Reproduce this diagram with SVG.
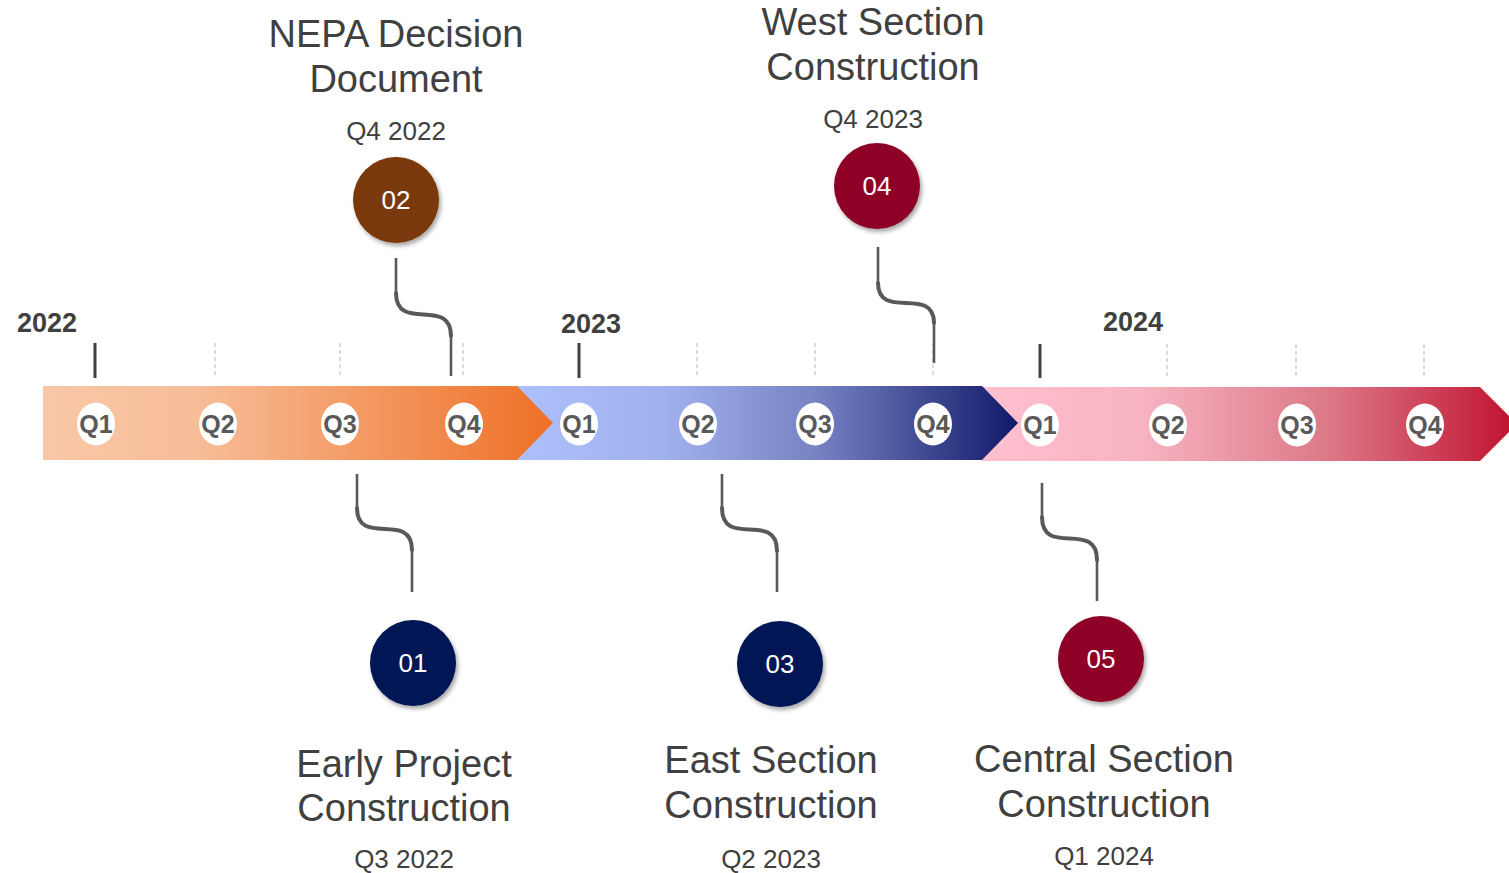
<svg xmlns="http://www.w3.org/2000/svg" width="1509" height="873" viewBox="0 0 1509 873">
<defs>
<linearGradient id="g1" x1="0" y1="0" x2="1" y2="0"><stop offset="0" stop-color="#F9C7A7"/><stop offset="0.3" stop-color="#F7BD98"/><stop offset="1" stop-color="#EE7026"/></linearGradient>
<linearGradient id="g2" x1="0" y1="0" x2="1" y2="0"><stop offset="0" stop-color="#AEC0FC"/><stop offset="0.3" stop-color="#A0B0EE"/><stop offset="0.6" stop-color="#7682C2"/><stop offset="1" stop-color="#10196A"/></linearGradient>
<linearGradient id="g3" x1="0" y1="0" x2="1" y2="0"><stop offset="0" stop-color="#FFC0CF"/><stop offset="0.3" stop-color="#F7B3C1"/><stop offset="0.65" stop-color="#DC7886"/><stop offset="1" stop-color="#C0112E"/></linearGradient>
<filter id="sh" x="-30%" y="-30%" width="160%" height="160%"><feDropShadow dx="2" dy="3" stdDeviation="2" flood-color="#000" flood-opacity="0.35"/></filter>
</defs>
<style>
.title{font-family:"Liberation Sans",Arial,sans-serif;font-size:38px;fill:#404040;text-anchor:middle}
.date{font-family:"Liberation Sans",Arial,sans-serif;font-size:26px;fill:#404040;text-anchor:middle}
.year{font-family:"Liberation Sans",Arial,sans-serif;font-size:27px;font-weight:bold;fill:#404040;text-anchor:middle}
.q{font-family:"Liberation Sans",Arial,sans-serif;font-size:25px;font-weight:bold;fill:#595959;text-anchor:middle}
.num{font-family:"Liberation Sans",Arial,sans-serif;font-size:26px;fill:#FFFFFF;text-anchor:middle}
.qc{fill:#FFFFFF}
.tick{stroke:#404040;stroke-width:3}
.dash{stroke:#D3D3D3;stroke-width:1.6;stroke-dasharray:4 3}
.ln{fill:none;stroke:#595959;stroke-width:2.6}
.cv{fill:none;stroke:#595959;stroke-width:4;stroke-linecap:round}
</style>
<g id="timeline">
<polygon points="982,387 1480,387 1517,424 1480,461 982,461" fill="url(#g3)"/>
<polygon points="517,386 982,386 1018,423 982,460 517,460" fill="url(#g2)"/>
<polygon points="43,386 517,386 553,423 517,460 43,460" fill="url(#g1)"/>
</g>
<g id="ticks">
<line class="tick" x1="95" y1="343" x2="95" y2="378"/>
<line class="tick" x1="579" y1="343" x2="579" y2="378"/>
<line class="tick" x1="1040" y1="344" x2="1040" y2="378"/>
<line class="dash" x1="215" y1="343" x2="215" y2="378"/>
<line class="dash" x1="340" y1="343" x2="340" y2="378"/>
<line class="dash" x1="463" y1="343" x2="463" y2="378"/>
<line class="dash" x1="697" y1="343" x2="697" y2="378"/>
<line class="dash" x1="815" y1="343" x2="815" y2="378"/>
<line class="dash" x1="933" y1="343" x2="933" y2="378"/>
<line class="dash" x1="1167" y1="344" x2="1167" y2="378"/>
<line class="dash" x1="1296" y1="344" x2="1296" y2="378"/>
<line class="dash" x1="1424" y1="344" x2="1424" y2="378"/>
<text class="year" x="47" y="332">2022</text>
<text class="year" x="591" y="333">2023</text>
<text class="year" x="1133" y="331">2024</text>
</g>
<g id="quarters">
<ellipse class="qc" cx="96" cy="424" rx="19" ry="21.5"/><text class="q" x="96" y="433">Q1</text>
<ellipse class="qc" cx="218" cy="424" rx="19" ry="21.5"/><text class="q" x="218" y="433">Q2</text>
<ellipse class="qc" cx="340" cy="424" rx="19" ry="21.5"/><text class="q" x="340" y="433">Q3</text>
<ellipse class="qc" cx="464" cy="424" rx="19" ry="21.5"/><text class="q" x="464" y="433">Q4</text>
<ellipse class="qc" cx="579" cy="424" rx="19" ry="21.5"/><text class="q" x="579" y="433">Q1</text>
<ellipse class="qc" cx="698" cy="424" rx="19" ry="21.5"/><text class="q" x="698" y="433">Q2</text>
<ellipse class="qc" cx="815" cy="424" rx="19" ry="21.5"/><text class="q" x="815" y="433">Q3</text>
<ellipse class="qc" cx="933" cy="424" rx="19" ry="21.5"/><text class="q" x="933" y="433">Q4</text>
<ellipse class="qc" cx="1040" cy="425" rx="19" ry="21.5"/><text class="q" x="1040" y="434">Q1</text>
<ellipse class="qc" cx="1168" cy="425" rx="19" ry="21.5"/><text class="q" x="1168" y="434">Q2</text>
<ellipse class="qc" cx="1297" cy="425" rx="19" ry="21.5"/><text class="q" x="1297" y="434">Q3</text>
<ellipse class="qc" cx="1425" cy="425" rx="19" ry="21.5"/><text class="q" x="1425" y="434">Q4</text>
</g>
<g id="connectors">
<path class="ln" d="M396,258 V293 M451,336 V376"/>
<path class="cv" d="M396,293 C396,333 451,296 451,336"/>
<path class="ln" d="M878,247 V283 M934,323 V363"/>
<path class="cv" d="M878,283 C878,321 934,285 934,323"/>
<path class="ln" d="M357,474 V508 M412,550 V592"/>
<path class="cv" d="M357,508 C357,548 412,510 412,550"/>
<path class="ln" d="M722,474 V508 M777,551 V592"/>
<path class="cv" d="M722,508 C722,549 777,510 777,551"/>
<path class="ln" d="M1042,483 V517 M1097,560 V601"/>
<path class="cv" d="M1042,517 C1042,558 1097,519 1097,560"/>
</g>
<g id="m02">
<circle cx="396" cy="200" r="43" fill="#7A3707" filter="url(#sh)"/>
<text class="num" x="396" y="209">02</text>
<text class="title" x="396" y="47">NEPA Decision</text>
<text class="title" x="396" y="92">Document</text>
<text class="date" x="396" y="140">Q4 2022</text>
</g>
<g id="m04">
<circle cx="877" cy="186" r="43" fill="#8E0025" filter="url(#sh)"/>
<text class="num" x="877" y="195">04</text>
<text class="title" x="873" y="35">West Section</text>
<text class="title" x="873" y="80">Construction</text>
<text class="date" x="873" y="128">Q4 2023</text>
</g>
<g id="m01">
<circle cx="413" cy="663" r="43" fill="#011655" filter="url(#sh)"/>
<text class="num" x="413" y="672">01</text>
<text class="title" x="404" y="777">Early Project</text>
<text class="title" x="404" y="821">Construction</text>
<text class="date" x="404" y="868">Q3 2022</text>
</g>
<g id="m03">
<circle cx="780" cy="664" r="43" fill="#011655" filter="url(#sh)"/>
<text class="num" x="780" y="673">03</text>
<text class="title" x="771" y="773">East Section</text>
<text class="title" x="771" y="818">Construction</text>
<text class="date" x="771" y="868">Q2 2023</text>
</g>
<g id="m05">
<circle cx="1101" cy="659" r="43" fill="#8E0025" filter="url(#sh)"/>
<text class="num" x="1101" y="668">05</text>
<text class="title" x="1104" y="772">Central Section</text>
<text class="title" x="1104" y="817">Construction</text>
<text class="date" x="1104" y="865">Q1 2024</text>
</g>
</svg>
